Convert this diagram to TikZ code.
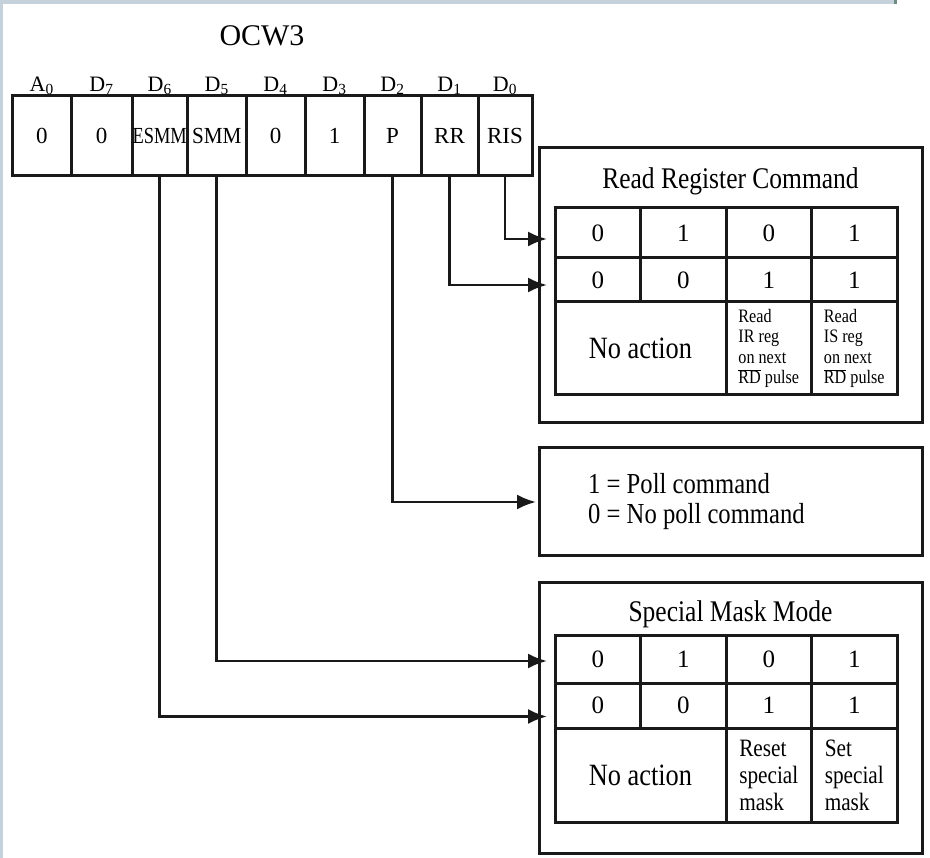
\documentclass[tikz,border=0pt]{standalone}
\usepackage{fontspec}
\setmainfont{Liberation Serif}
\newfontfamily\narrowfont{Liberation Serif}[FakeStretch=0.85]
\definecolor{framegray}{RGB}{198,210,219}
\definecolor{frametick}{RGB}{110,140,132}
\definecolor{inkblack}{RGB}{25,25,25}
\usetikzlibrary{arrows.meta,positioning}

\begin{document}
\begin{tikzpicture}[
  x=1pt,y=-1pt,
  node distance=0pt,
  bitcell/.style={rectangle,draw=inkblack,line width=3pt,outer sep=0pt,inner sep=0pt,
                  minimum height=80pt,font=\fontsize{23}{26}\selectfont},
  bitlbl/.style={inner sep=1pt,font=\fontsize{22}{24}\selectfont},
  outerbox/.style={rectangle,draw=inkblack,line width=3pt,outer sep=0pt,minimum width=383pt},
  boxtitle/.style={inner sep=0pt,font=\narrowfont\fontsize{30}{32}\selectfont},
  tcell/.style={rectangle,draw=inkblack,line width=3pt,outer sep=0pt,inner sep=0pt,
                minimum width=85.5pt,font=\fontsize{25}{28}\selectfont},
  noact/.style={font=\narrowfont\fontsize{31}{33}\selectfont},
  tiny/.style={align=left,font=\narrowfont\fontsize{19}{20.5}\selectfont},
  small/.style={align=left,font=\narrowfont\fontsize{25}{27}\selectfont},
  arrow/.style={-{Latex[length=19pt,width=15pt]},inkblack,line width=2.6pt},
]
\useasboundingbox (0,0) rectangle (930,858);
\fill[framegray] (0,0) rectangle (895,4);
\fill[framegray] (0,0) rectangle (2.5,858);
\fill[frametick] (894,0) rectangle (896.5,4);

\node[font=\fontsize{30}{32}\selectfont] (ocw) at (262,36) {OCW3};

\node[bitcell,minimum width=58.5pt] (a0) at (41.75,136) {0};
\node[bitcell,minimum width=61pt,   right=of a0] (d7) {0};
\node[bitcell,minimum width=55.5pt, right=of d7] (d6) {\scalebox{0.8}[1]{ESMM}};
\node[bitcell,minimum width=58.5pt, right=of d6] (d5) {\scalebox{0.92}[1]{SMM}};
\node[bitcell,minimum width=59pt,   right=of d5] (d4) {0};
\node[bitcell,minimum width=59pt,   right=of d4] (d3) {1};
\node[bitcell,minimum width=57pt,   right=of d3] (d2) {P};
\node[bitcell,minimum width=57pt,   right=of d2] (d1) {RR};
\node[bitcell,minimum width=54pt,   right=of d1] (d0) {RIS};

\node[bitlbl, above=of a0] (la0) {A\textsubscript{0}};
\node[bitlbl, above=of d7] (ld7) {D\textsubscript{7}};
\node[bitlbl, above=of d6] (ld6) {D\textsubscript{6}};
\node[bitlbl, above=of d5] (ld5) {D\textsubscript{5}};
\node[bitlbl, above=of d4] (ld4) {D\textsubscript{4}};
\node[bitlbl, above=of d3] (ld3) {D\textsubscript{3}};
\node[bitlbl, above=of d2] (ld2) {D\textsubscript{2}};
\node[bitlbl, above=of d1] (ld1) {D\textsubscript{1}};
\node[bitlbl, above=of d0] (ld0) {D\textsubscript{0}};

% read register command
\node[outerbox,minimum height=275pt] (rrc) at (730.5,285.5) {};
\node[boxtitle, below=19pt of rrc.north] (rrctitle) {Read Register Command};
\node[tcell,minimum height=50pt,anchor=north west] (rr11) at ([xshift=16pt,yshift=-60pt]rrc.north west) {0};
\node[tcell,minimum height=50pt,right=of rr11] (rr12) {1};
\node[tcell,minimum height=50pt,right=of rr12] (rr13) {0};
\node[tcell,minimum height=50pt,right=of rr13] (rr14) {1};
\node[tcell,minimum height=44pt,below=of rr11] (rr21) {0};
\node[tcell,minimum height=44pt,below=of rr12] (rr22) {0};
\node[tcell,minimum height=44pt,below=of rr13] (rr23) {1};
\node[tcell,minimum height=44pt,below=of rr14] (rr24) {1};
\node[tcell,noact,minimum height=93pt,minimum width=171pt,anchor=north west] (rrna) at (rr21.south west) {No action};
\node[tcell,tiny,minimum height=93pt,below=of rr23] (rrir) {Read\\IR reg\\on next\\$\overline{\mbox{RD}}$ pulse};
\node[tcell,tiny,minimum height=93pt,below=of rr24] (rris) {Read\\IS reg\\on next\\$\overline{\mbox{RD}}$ pulse};

% poll
\node[outerbox,minimum height=108pt] (poll) at (730.5,502) {};
\node[boxtitle,align=left,font=\narrowfont\fontsize{29}{30}\selectfont,anchor=west] (polltxt)
  at ([xshift=49pt]poll.west) {1 = Poll command\\0 = No poll command};

% special mask mode
\node[outerbox,minimum height=270pt] (smm) at (730.5,718) {};
\node[boxtitle, below=17pt of smm.north] (smmtitle) {Special Mask Mode};
\node[tcell,minimum height=48pt,anchor=north west] (sm11) at ([xshift=16pt,yshift=-52pt]smm.north west) {0};
\node[tcell,minimum height=48pt,right=of sm11] (sm12) {1};
\node[tcell,minimum height=48pt,right=of sm12] (sm13) {0};
\node[tcell,minimum height=48pt,right=of sm13] (sm14) {1};
\node[tcell,minimum height=45pt,below=of sm11] (sm21) {0};
\node[tcell,minimum height=45pt,below=of sm12] (sm22) {0};
\node[tcell,minimum height=45pt,below=of sm13] (sm23) {1};
\node[tcell,minimum height=45pt,below=of sm14] (sm24) {1};
\node[tcell,noact,minimum height=94pt,minimum width=171pt,anchor=north west] (smna) at (sm21.south west) {No action};
\node[tcell,small,minimum height=94pt,below=of sm23] (smrs) {Reset\\special\\mask};
\node[tcell,small,minimum height=94pt,below=of sm24] (smst) {Set\\special\\mask};

\draw[arrow,shorten >=8pt] (d0.south) |- ([yshift=-6pt]rr11.west);
\draw[arrow,shorten >=8pt] (d1.south) |- ([yshift=-5pt]rr21.west);
\draw[arrow,shorten >=3pt] (d2.south) |- (poll.west);
\draw[arrow,shorten >=8pt] (d5.south) |- ([yshift=-2pt]sm11.west);
\draw[arrow,shorten >=8pt] (d6.south) |- ([yshift=-11pt]sm21.west);

\end{tikzpicture}
\end{document}
